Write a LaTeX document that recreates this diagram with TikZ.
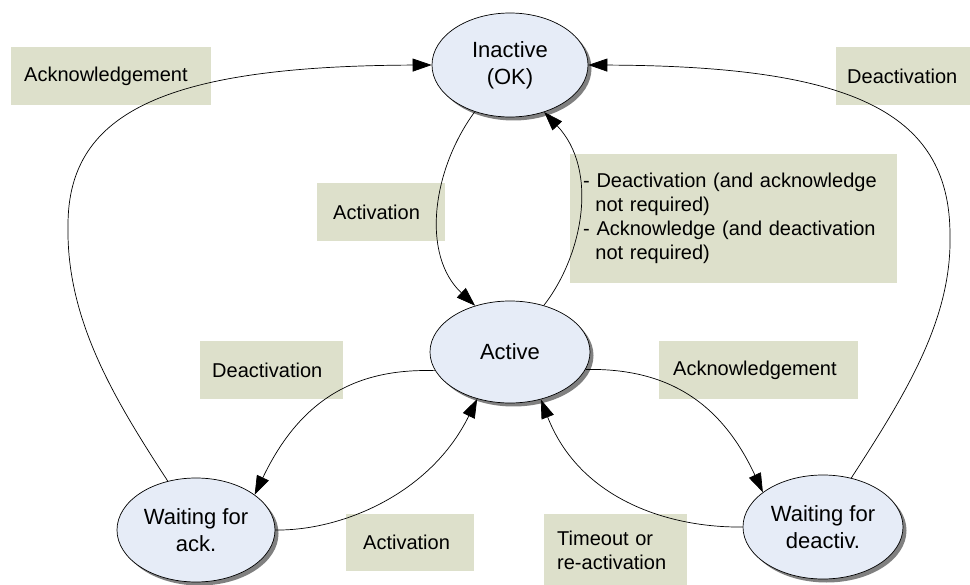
\documentclass[tikz,border=0pt]{standalone}
\usepackage{fontspec}
\setmainfont{Liberation Sans}
\usetikzlibrary{arrows.meta,shadows,shapes.geometric}
\definecolor{ellfill}{HTML}{E6ECF7}
\definecolor{lblfill}{HTML}{DDE0CB}
\begin{document}
\begin{tikzpicture}[x=1pt,y=-1pt,
  state/.style={ellipse, draw=black, line width=0.7pt, fill=ellfill, inner sep=0pt, align=center,
    font=\fontsize{22}{27}\selectfont,
    drop shadow={shadow xshift=3.5pt, shadow yshift=-3.5pt, opacity=1, fill=black!50}},
  lbl/.style={rectangle, fill=lblfill, anchor=north west, align=left, inner ysep=0pt,
    font=\fontsize{20}{24}\selectfont},
  conn/.style={line width=0.7pt, -{Triangle[length=19pt,width=13pt]}}]
\useasboundingbox (0,0) rectangle (970,585);
\fill[white] (0,0) rectangle (970,585);
% labels
\node[lbl, minimum width=200pt, minimum height=58pt, text width=174pt, inner xsep=13pt] (l1) at (11,47) {Acknowledgement};
\node[lbl, minimum width=134pt, minimum height=58pt, text width=112pt, inner xsep=11pt] (l2) at (836,47) {Deactivation};
\node[lbl, minimum width=128pt, minimum height=58pt, text width=96pt, inner xsep=16pt] (l3) at (317,183) {Activation};
\node[lbl, minimum width=327pt, minimum height=129pt, text width=301pt, inner xsep=13pt] (l4) at (570,154)
  {- Deactivation (and acknowledge\\\hspace*{12.2pt}not required)\\- Acknowledge (and deactivation\\\hspace*{12.2pt}not required)};
\node[lbl, minimum width=143pt, minimum height=58pt, text width=119pt, inner xsep=12pt] (l5) at (200,341) {Deactivation};
\node[lbl, minimum width=199pt, minimum height=58pt, text width=171pt, inner xsep=14pt] (l6) at (659,341) {Acknowledgement};
\node[lbl, minimum width=128pt, minimum height=57pt, text width=94pt, inner xsep=17pt] (l7) at (346,514) {Activation};
\node[lbl, minimum width=143pt, minimum height=72pt, text width=117pt, inner xsep=13pt] (l8) at (544,514) {Timeout or\\re-activation};
% states
\node[state, minimum width=156pt, minimum height=104pt] (inact) at (510,65) {Inactive\\(OK)};
\node[state, minimum width=160pt, minimum height=102pt] (act) at (510,352) {Active};
\node[state, minimum width=158pt, minimum height=104pt] (wack) at (196,530) {Waiting for\\ack.};
\node[state, minimum width=160pt, minimum height=104pt] (wdeact) at (823,527) {Waiting for\\deactiv.};
% connectors
\draw[conn] (inact.233.5) .. controls (432,170) and (421,255) .. (act.127.8);
\draw[conn] (act.54.5) .. controls (583,255) and (599,170) .. (inact.306.2);
\draw[conn] (wack.120) .. controls (115,400) and (66,320) .. (68,225) .. controls (68,110) and (170,66) .. (inact.west);
\draw[conn] (wdeact.60) .. controls (905,395) and (952,320) .. (950,235) .. controls (950,110) and (848,66) .. (inact.east);
\draw[conn] (act.194.6) .. controls (355,368) and (300,400) .. (wack.31);
\draw[conn] (act.347) .. controls (665,368) and (720,400) .. (wdeact.150.7);
\draw[conn] (wack.east) .. controls (340,531) and (430,495) .. (act.235.7);
\draw[conn] (wdeact.west) .. controls (670,528) and (580,500) .. (act.303.7);
\end{tikzpicture}
\end{document}
